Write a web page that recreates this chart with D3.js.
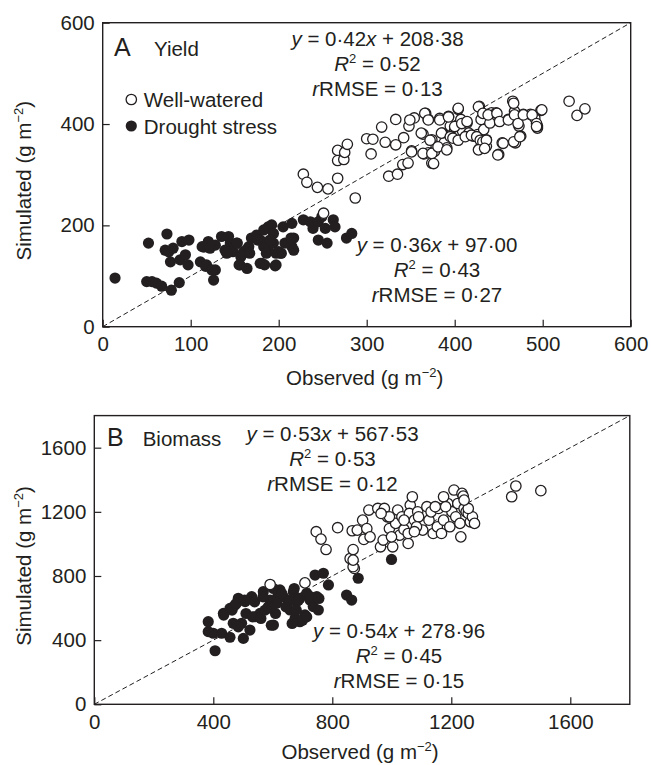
<!DOCTYPE html>
<html>
<head>
<meta charset="utf-8">
<script src="https://cdn.jsdelivr.net/npm/d3@7"></script>
<style>
  body { margin: 0; background: #fff; }
  svg { font-family: "Liberation Sans", Arial, sans-serif; }
</style>
</head>
<body>
<script>
// observed, simulated pairs
var yieldWell = [[228,301],[232,285],[244,275],[256,272],[251,224],[287,254],[267,293],[267,348],[267,328],[274,330],[275,344],[278,360],[300,371],[307,370],[305,341],[317,394],[321,364],[325,297],[335,301],[333,409],[333,359],[342,373],[348,396],[341,320],[347,323],[351,347],[354,412],[364,380],[367,421],[370,409],[365,341],[370,343],[374,323],[374,369],[377,346],[379,356],[383,411],[386,382],[388,363],[391,353],[393,415],[395,396],[400,389],[402,397],[404,429],[407,409],[404,376],[409,386],[414,402],[416,382],[421,376],[426,379],[428,435],[430,409],[433,389],[436,369],[438,419],[440,402],[442,422],[447,422],[428,351],[433,363],[436,356],[450,340],[454,363],[461,409],[466,445],[468,425],[471,415],[473,396],[469,363],[475,376],[478,419],[486,419],[491,412],[494,392],[498,427],[530,445],[539,417],[548,430],[494,396],[349,408],[366,421],[370,408],[383,408],[393,414],[404,431],[362,382],[372,368],[351,345],[364,342],[374,342],[376,322],[381,355],[391,349],[385,382],[395,375],[400,395],[408,401],[414,405],[398,372],[404,368],[412,375],[419,378],[425,375],[429,368],[432,365],[436,368],[427,349],[434,352],[427,434],[432,421],[438,418],[448,421],[451,405],[461,408],[467,441],[468,418],[472,401],[478,418],[488,418],[493,401],[499,428],[455,362],[467,365],[474,375],[449,339],[493,395]];
var yieldDrought = [[14,96],[52,165],[50,89],[56,89],[61,86],[67,80],[73,183],[78,72],[87,87],[71,151],[75,148],[80,155],[77,128],[90,168],[98,171],[88,132],[97,122],[94,142],[111,128],[118,122],[128,112],[126,92],[113,158],[120,168],[128,161],[135,178],[143,178],[145,165],[152,165],[139,151],[148,148],[156,122],[164,115],[160,148],[166,158],[169,175],[175,181],[179,171],[183,191],[188,197],[192,201],[194,184],[183,158],[188,151],[194,165],[200,148],[203,145],[179,125],[184,122],[196,120],[205,197],[215,204],[217,175],[215,158],[217,151],[228,211],[236,207],[239,194],[245,207],[249,217],[253,194],[262,211],[264,197],[245,171],[255,165],[277,175],[283,184],[115,157],[122,155],[141,145],[153,165],[157,138],[167,145],[176,171],[181,125],[186,145],[190,171],[197,145],[202,145],[207,165],[214,175],[117,119],[124,112],[155,122],[197,122]];
var biomassWell = [[591,747],[708,757],[746,1076],[762,1030],[779,965],[818,1101],[860,909],[870,965],[874,847],[867,1082],[884,1086],[902,1148],[906,1028],[916,1096],[923,1211],[927,1044],[953,1221],[962,982],[971,1024],[975,1221],[985,1169],[992,1096],[1003,982],[1013,1128],[1020,1211],[1027,1055],[1034,1169],[1041,1090],[1055,1003],[1062,1242],[1059,1190],[1069,1294],[1076,1148],[1087,1200],[1104,1086],[1118,1232],[1125,1148],[1132,1200],[1139,1065],[1153,1107],[1157,1221],[1167,1065],[1174,1148],[1188,1252],[1195,1107],[1202,1200],[1209,1336],[1215,1169],[1222,1252],[1229,1128],[1232,1044],[1236,1315],[1243,1221],[1250,1200],[1264,1138],[1240,1298],[1403,1294],[1417,1361],[1501,1332],[1257,1190],[1271,1169],[1257,1221],[1243,1273],[1278,1128],[1174,1294],[1181,1232],[1146,1232],[1090,1169],[1083,1107],[999,1044],[1055,1065],[1076,1076],[1041,1148],[992,1169],[964,1190],[870,858],[870,899]];
var biomassDrought = [[383,515],[383,453],[400,443],[406,334],[428,443],[456,418],[434,567],[456,598],[473,619],[467,505],[495,505],[501,411],[484,661],[507,640],[529,671],[523,463],[540,546],[557,567],[568,702],[591,650],[596,599],[613,630],[602,494],[624,713],[635,671],[647,609],[658,588],[669,702],[680,640],[691,661],[675,536],[691,515],[708,557],[714,692],[725,650],[736,609],[748,671],[742,806],[770,817],[787,744],[753,588],[848,681],[865,650],[887,786],[999,903],[435,556],[463,587],[477,628],[484,483],[505,649],[510,566],[532,545],[539,639],[560,535],[567,670],[574,587],[585,608],[595,493],[602,722],[609,566],[616,670],[630,691],[644,608],[658,649],[665,504],[672,722],[679,587],[686,649],[700,524],[714,545],[728,670],[755,660]];

var yieldTicks = [0, 100, 200, 300, 400, 500, 600];
var yieldYTicks = [0, 200, 400, 600];
var biomassTicks = [0, 400, 800, 1200, 1600];

var legendLabels = ["Well-watered", "Drought stress"];
// [slope, intercept, R2, rRMSE]
var yieldFitWell = ["0·42", "208·38", "0·52", "0·13"];
var yieldFitDrought = ["0·36", "97·00", "0·43", "0·27"];
var biomassFitWell = ["0·53", "567·53", "0·53", "0·12"];
var biomassFitDrought = ["0·54", "278·96", "0·45", "0·15"];

var svg = d3.select("body").append("svg")
    .attr("width", 651)
    .attr("height", 765);

var ink = "#231f20";

function unitLabel(x, y, rotate, prefix) {
    var txt = svg.append("text")
        .attr("transform", "translate(" + x + "," + y + ")" + (rotate ? " rotate(-90)" : ""))
        .attr("text-anchor", "middle")
        .attr("font-size", 20.5)
        .attr("fill", ink);
    txt.append("tspan").text(prefix + " (g m");
    txt.append("tspan").attr("font-size", 13).attr("dy", -8).text("\u22122");
    txt.append("tspan").attr("dy", 8).text(")");
}

function fitBlock(g, cx, y0, fit) {
    var t1 = g.append("text").attr("x", cx).attr("y", y0)
        .attr("text-anchor", "middle").attr("font-size", 20.5).attr("fill", ink);
    t1.append("tspan").attr("font-style", "italic").text("y");
    t1.append("tspan").text(" = " + fit[0]);
    t1.append("tspan").attr("font-style", "italic").text("x");
    t1.append("tspan").text(" + " + fit[1]);

    var t2 = g.append("text").attr("x", cx).attr("y", y0 + 25)
        .attr("text-anchor", "middle").attr("font-size", 20.5).attr("fill", ink);
    t2.append("tspan").attr("font-style", "italic").text("R");
    t2.append("tspan").attr("font-size", 13).attr("dy", -8).text("2");
    t2.append("tspan").attr("dy", 8).text(" = " + fit[2]);

    var t3 = g.append("text").attr("x", cx).attr("y", y0 + 50)
        .attr("text-anchor", "middle").attr("font-size", 20.5).attr("fill", ink);
    t3.append("tspan").attr("font-style", "italic").text("r");
    t3.append("tspan").text("RMSE = " + fit[3]);
}

function panel(opt) {
    var x = d3.scaleLinear().domain([0, opt.max]).range([opt.left, opt.right]);
    var y = d3.scaleLinear().domain([0, opt.max]).range([opt.bottom, opt.top]);
    var g = svg.append("g");

    // 1:1 line
    g.append("line")
        .attr("x1", x(0)).attr("y1", y(0))
        .attr("x2", x(opt.max)).attr("y2", y(opt.max))
        .attr("stroke", ink).attr("stroke-width", 1)
        .attr("stroke-dasharray", "5,3");

    g.selectAll("circle.dry")
        .data(opt.drought).enter()
        .append("circle")
        .attr("class", "dry")
        .attr("cx", d => x(d[0]))
        .attr("cy", d => y(d[1]))
        .attr("r", 5.6)
        .attr("fill", ink);

    g.selectAll("circle.wet")
        .data(opt.well).enter()
        .append("circle")
        .attr("class", "wet")
        .attr("cx", d => x(d[0]))
        .attr("cy", d => y(d[1]))
        .attr("r", 5.2)
        .attr("fill", "#fff")
        .attr("stroke", ink)
        .attr("stroke-width", 1.3);

    var fmt = d3.format("d");
    var xAxis = d3.axisBottom(x).tickValues(opt.xticks).tickFormat(fmt)
        .tickSizeInner(-7).tickSizeOuter(0).tickPadding(8);
    var yAxis = d3.axisLeft(y).tickValues(opt.yticks).tickFormat(fmt)
        .tickSizeInner(-7).tickSizeOuter(0).tickPadding(8);

    var gx = g.append("g")
        .attr("transform", "translate(0," + opt.bottom + ")")
        .call(xAxis);
    var gy = g.append("g")
        .attr("transform", "translate(" + opt.left + ",0)")
        .call(yAxis);
    [gx, gy].forEach(a => {
        a.select(".domain").remove();
        a.selectAll("line").attr("stroke", ink).attr("stroke-width", 1.2);
        a.selectAll("text")
            .attr("font-size", 20.5)
            .attr("font-family", "Liberation Sans, Arial, sans-serif")
            .attr("fill", ink);
    });
    gx.selectAll("text").attr("dy", "0.71em").attr("y", 10);

    // frame
    g.append("rect")
        .attr("x", opt.left).attr("y", opt.top)
        .attr("width", opt.right - opt.left)
        .attr("height", opt.bottom - opt.top)
        .attr("fill", "none")
        .attr("stroke", ink)
        .attr("stroke-width", 1.4);

    g.append("text").attr("x", opt.letterX).attr("y", opt.letterY)
        .attr("font-size", 25).attr("fill", ink).text(opt.letter);
    g.append("text").attr("x", opt.nameX).attr("y", opt.letterY)
        .attr("font-size", 20.5).attr("fill", ink).text(opt.name);

    fitBlock(g, opt.fitWell[0], opt.fitWell[1], opt.fitWellText);
    fitBlock(g, opt.fitDry[0], opt.fitDry[1], opt.fitDryText);

    unitLabel(31, (opt.top + opt.bottom) / 2 + 6, true, "Simulated");
    unitLabel((opt.left + opt.right) / 2 - 2, opt.xlabelY, false, "Observed");
    return g;
}

var gA = panel({
    max: 600, left: 102.7, right: 630.7, top: 22.7, bottom: 326.7,
    xticks: yieldTicks, yticks: yieldYTicks,
    well: yieldWell, drought: yieldDrought,
    letter: "A", letterX: 114, letterY: 56, name: "Yield", nameX: 154,
    fitWell: [377.5, 46], fitWellText: yieldFitWell,
    fitDry: [437, 251.5], fitDryText: yieldFitDrought,
    xlabelY: 385
});

// legend for panel A
var legend = gA.selectAll("g.leg")
    .data(legendLabels).enter()
    .append("g")
    .attr("class", "leg")
    .attr("transform", (d, i) => "translate(131.3," + (99.5 + i * 26.5) + ")");
legend.append("circle")
    .attr("r", (d, i) => i === 0 ? 5.2 : 5.6)
    .attr("fill", (d, i) => i === 0 ? "#fff" : ink)
    .attr("stroke", (d, i) => i === 0 ? ink : "none")
    .attr("stroke-width", 1.3);
legend.append("text")
    .attr("x", 12.5).attr("y", 7.5)
    .attr("font-size", 20.5).attr("fill", ink)
    .text(d => d);

panel({
    max: 1800, left: 94.3, right: 629.8, top: 415.6, bottom: 704.3,
    xticks: biomassTicks, yticks: biomassTicks,
    well: biomassWell, drought: biomassDrought,
    letter: "B", letterX: 107, letterY: 446, name: "Biomass", nameX: 142.7,
    fitWell: [332.5, 441], fitWellText: biomassFitWell,
    fitDry: [399, 638], fitDryText: biomassFitDrought,
    xlabelY: 759
});
</script>
</body>
</html>
